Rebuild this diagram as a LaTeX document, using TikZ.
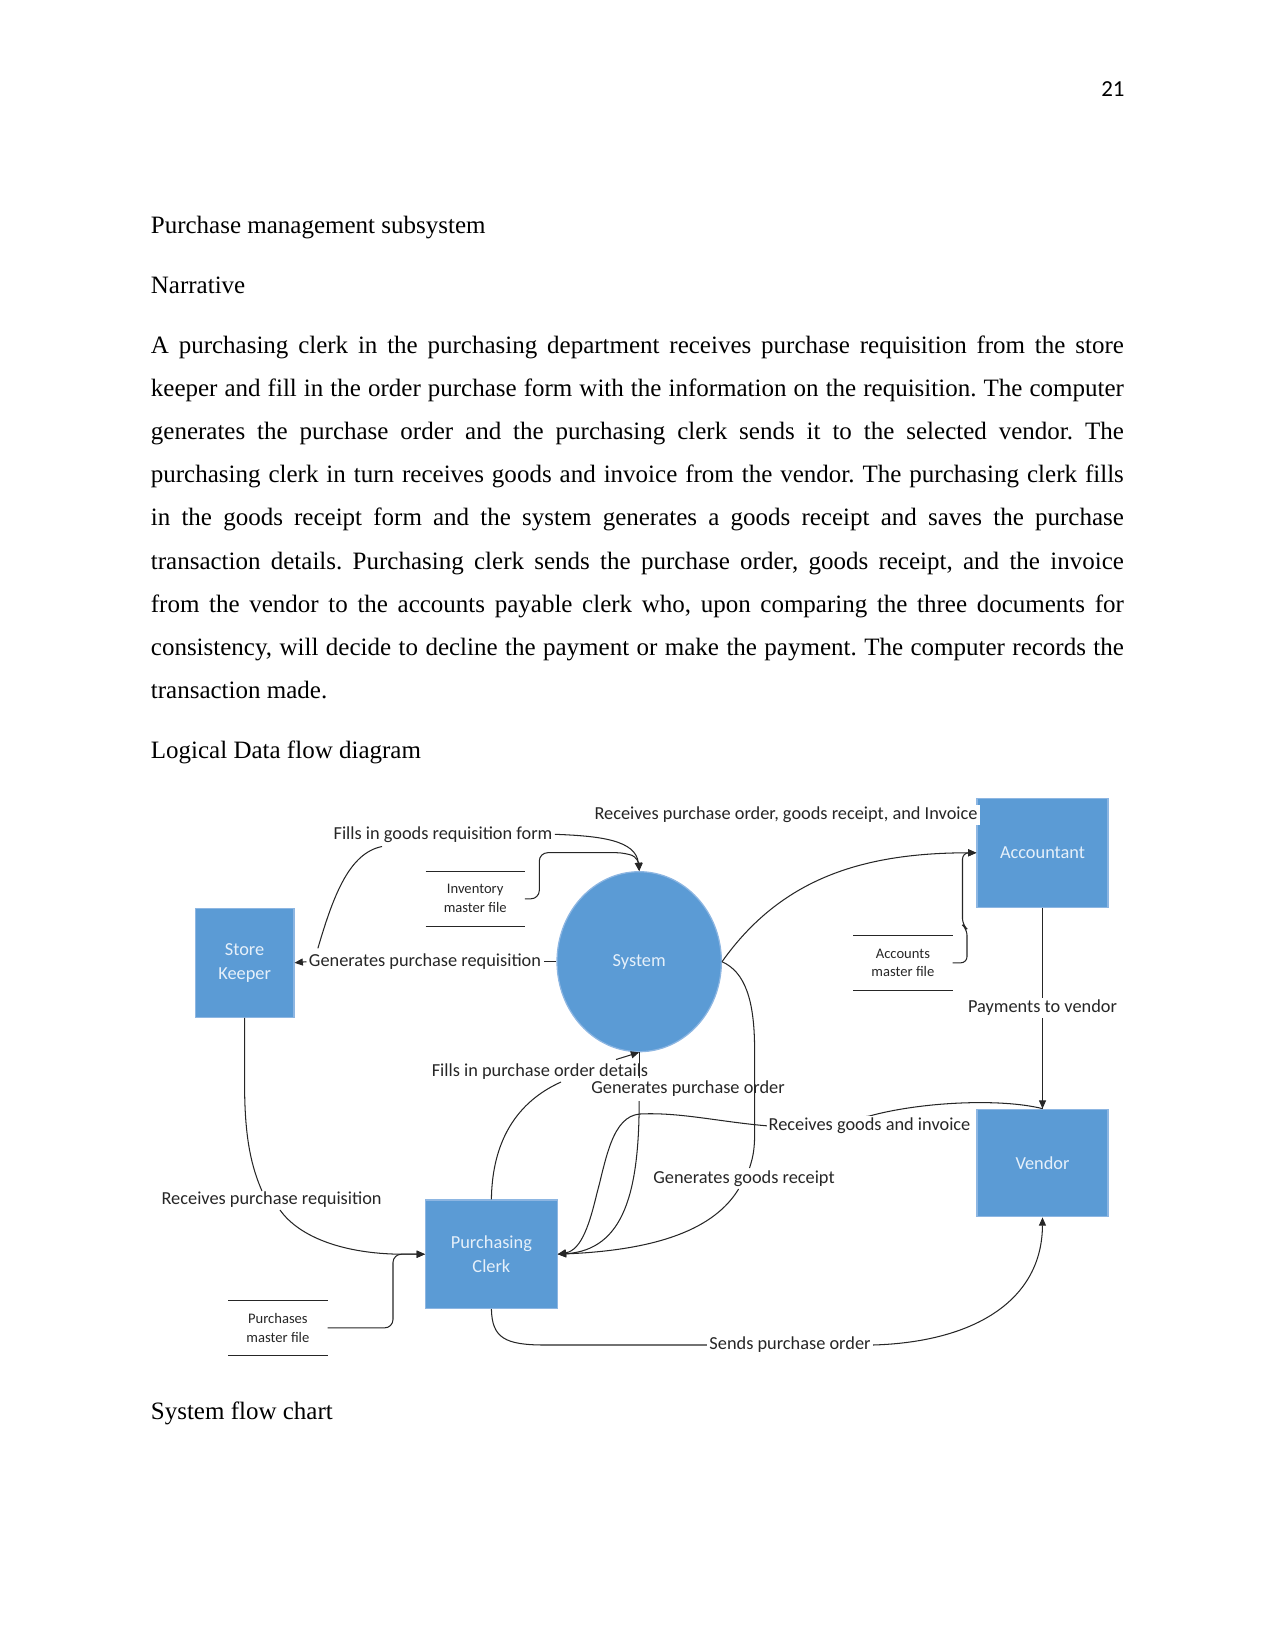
\documentclass[tikz,border=0pt]{standalone}
\usepackage{fontspec}
\setmainfont{Liberation Serif}
\newfontfamily\calib{Carlito}
\usetikzlibrary{arrows.meta,shapes.geometric}
\definecolor{boxblue}{HTML}{5B9BD5}
\definecolor{boxedge}{HTML}{8DB6E2}
\definecolor{boxtext}{HTML}{E6F0FA}
\definecolor{lbl}{HTML}{262626}
\frenchspacing
\begin{document}
\begin{tikzpicture}[x=0.48pt,y=-0.48pt,
  entity/.style={draw=boxedge, line width=0.6pt, fill=boxblue, text=boxtext,
    font=\calib\fontsize{8.8}{11.4}\selectfont, align=center, inner sep=0pt},
  flowlabel/.style={font=\calib\fontsize{8.8}{10}\selectfont, text=lbl, inner sep=1pt},
  storetext/.style={font=\calib\fontsize{7}{9.1}\selectfont, align=center, text=lbl,
    minimum width=47.3pt, minimum height=26pt, inner sep=0pt},
  flow/.style={line width=0.5pt, draw=black!85},
  arr/.style={-{Triangle[length=4pt,width=3.4pt]}},
  body/.style={anchor=base west, inner sep=0pt, font=\fontsize{12}{14}\selectfont}]
\useasboundingbox (0,0) rectangle (1275,1651);

% page number and text
\node[font=\calib\fontsize{11}{13}\selectfont, anchor=base east, inner sep=0pt] (pg) at (1125,97) {21};
\node[body] (t1) at (150.5,234) {Purchase management subsystem};
\node[body] (t2) at (150.5,293) {Narrative};
\node[body] (p1) at (150.5,353) {\makebox[467pt][s]{A purchasing clerk in the purchasing department receives purchase requisition from the store}};
\node[body] (p2) at (150.5,396.2) {\makebox[467pt][s]{keeper and fill in the order purchase form with the information on the requisition. The computer}};
\node[body] (p3) at (150.5,439.4) {\makebox[467pt][s]{generates the purchase order and the purchasing clerk sends it to the selected vendor. The}};
\node[body] (p4) at (150.5,482.6) {\makebox[467pt][s]{purchasing clerk in turn receives goods and invoice from the vendor. The purchasing clerk fills}};
\node[body] (p5) at (150.5,525.8) {\makebox[467pt][s]{in the goods receipt form and the system generates a goods receipt and saves the purchase}};
\node[body] (p6) at (150.5,569) {\makebox[467pt][s]{transaction details. Purchasing clerk sends the purchase order, goods receipt, and the invoice}};
\node[body] (p7) at (150.5,612.2) {\makebox[467pt][s]{from the vendor to the accounts payable clerk who, upon comparing the three documents for}};
\node[body] (p8) at (150.5,655.4) {\makebox[467pt][s]{consistency, will decide to decline the payment or make the payment. The computer records the}};
\node[body] (p9) at (150.5,698.6) {transaction made.};
\node[body] (t3) at (150.5,758.3) {Logical Data flow diagram};
\node[body] (t4) at (150.5,1419.5) {System flow chart};

% entities
\node[entity, minimum width=47.3pt, minimum height=52.3pt] (sk) at (244.6,962.8) {Store\\Keeper};
\node[entity, minimum width=62.9pt, minimum height=52.3pt] (acc) at (1042.5,852.8) {Accountant};
\node[entity, minimum width=62.9pt, minimum height=51.6pt] (ven) at (1042.5,1163) {Vendor};
\node[entity, minimum width=63.1pt, minimum height=52pt] (pc) at (491.4,1254.2) {Purchasing\\Clerk};
\node[entity, ellipse, minimum width=78.9pt, minimum height=86.4pt] (sys) at (639.2,961.7) {System};

% data stores
\node[storetext] (inv) at (475.2,898.8) {Inventory\\master file};
\node[storetext] (acct) at (902.9,962.85) {Accounts\\master file};
\node[storetext] (pur) at (277.9,1327.85) {Purchases\\master file};
\foreach \s in {inv,acct,pur}{
  \draw[flow] (\s.north west) -- (\s.north east);
  \draw[flow] (\s.south west) -- (\s.south east);
}

% labels
\node[flowlabel] (l1) at (443,834.3) {Fills in goods requisition form};
\node[flowlabel] (l2) at (425,961.7) {Generates purchase requisition};
\node[flowlabel] (l5) at (540,1071.7) {Fills in purchase order details};
\node[flowlabel] (l6) at (688,1089) {Generates purchase order};
\node[flowlabel] (l8) at (744,1178.3) {Generates goods receipt};
\node[flowlabel] (l9) at (271.6,1200) {Receives purchase requisition};
\node[flowlabel] (l10) at (790,1345) {Sends purchase order};

\coordinate (c1s) at (317.9,948.3);
\coordinate (c1e) at (382,846.5);
\coordinate (c5e) at (561,1082);

% connectors
\draw[flow] (c1s) .. controls (334,893) and (350,853) .. (c1e);
\draw[flow,arr] (l1.east) .. controls (600,836) and (636,840) .. (sys.north);
\draw[flow] (sys.west) -- (l2.east);
\draw[flow,arr] (l2.west) -- (sk.east);
\draw[flow,arr,rounded corners=4pt] (inv.east) -- (539.3,898.8) -- (539.3,852.7) -- (625,852.7) -- (639.2,858) -- (sys.north);
\draw[flow,arr] (sys.east) .. controls (780,880) and (860,852.8) .. (acc.west);
\draw[flow,arr,rounded corners=3pt] (acct.east) -- (967,962.85) -- (967,929) -- (962.5,925) -- (962.5,852.8) -- (acc.west);
\draw[flow] (acc.south) -- (ven.north);
\draw[flow,arr] (ven.north) .. controls (1000,1098) and (920,1102) .. (869.5,1116) .. controls (830,1122) and (800,1126) .. (769,1126)
  .. controls (720,1122) and (680,1112) .. (640,1114) .. controls (612,1116) and (606,1160) .. (597,1193)
  .. controls (590,1222) and (582,1250) .. (pc.east);
\draw[flow] (sys.south) -- (639.2,1078);
\draw[flow,arr] (639.2,1101) .. controls (639,1190) and (625,1250) .. (pc.east);
\draw[flow] (pc.north) .. controls (492,1150) and (510,1105) .. (c5e);
\draw[flow,arr] (616,1059.5) -- (sys.south);
\draw[flow] (sys.east) .. controls (745,972) and (754.6,1000) .. (754.6,1050) -- (754.6,1135) .. controls (754.6,1152) and (752,1160) .. (749.5,1168);
\draw[flow,arr] (738.6,1189) .. controls (715,1228) and (660,1250) .. (pc.east);
\draw[flow] (pc.south) .. controls (492,1338) and (505,1345) .. (545,1345) -- (l10.west);
\draw[flow,arr] (l10.east) .. controls (975,1342) and (1042,1300) .. (ven.south);
\draw[flow] (sk.south) -- (244.6,1085) .. controls (244.6,1140) and (252,1168) .. (262,1191);
\draw[flow,arr] (280,1210) .. controls (300,1238) and (345,1253.5) .. (400,1254.2) -- (pc.west);
\draw[flow,arr,rounded corners=4pt] (pur.east) -- (393,1327.85) -- (393,1254.2) -- (pc.west);

% labels with white background
\node[flowlabel, fill=white] (l3) at (786,815) {Receives purchase order, goods receipt, and Invoice};
\node[flowlabel, fill=white] (l4) at (1042.5,1007.7) {Payments to vendor};
\node[flowlabel, fill=white] (l7) at (869.5,1126) {Receives goods and invoice};
\draw[flow,arr] (l4.south) -- (ven.north);
\end{tikzpicture}
\end{document}
